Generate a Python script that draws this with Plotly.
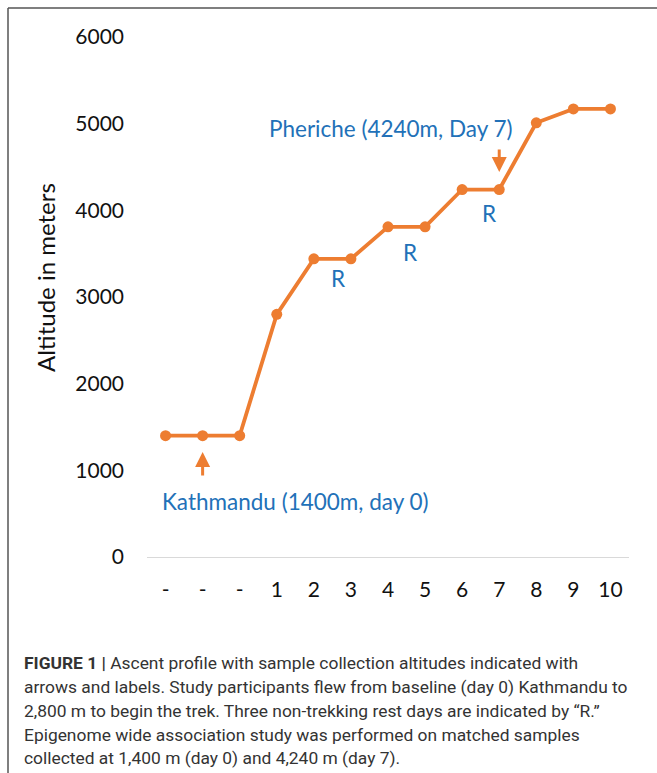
import plotly.graph_objects as go

# ---- data ----
x_index = list(range(13))
tick_labels = ["-", "-", "-", "1", "2", "3", "4", "5", "6", "7", "8", "9", "10"]
altitude_m = [1400, 1400, 1400, 2800, 3440, 3440, 3810, 3810, 4240, 4240, 5010, 5170, 5170]
y_ticks = [0, 1000, 2000, 3000, 4000, 5000, 6000]

rest_x = [4.66, 6.58, 8.73]
rest_y = [3219, 3508, 3969]

caption_lines = [
    "<b>FIGURE 1 |</b> Ascent profile with sample collection altitudes indicated with",
    "arrows and labels. Study participants flew from baseline (day 0) Kathmandu to",
    "2,800 m to begin the trek. Three non-trekking rest days are indicated by \u201cR.\u201d",
    "Epigenome wide association study was performed on matched samples",
    "collected at 1,400 m (day 0) and 4,240 m (day 7).",
]

ORANGE = "#ED7D31"
BLUE = "#2271B8"
FONT = "Lato, Open Sans, sans-serif"
LABEL_SIZE = 22.5

# plot area in pixels
L, R, T, B = 147, 629, 37, 557
W, H = 657, 773


def px(xp):
    return (xp - L) / (R - L)


def py(yp):
    return (B - yp) / (B - T)


fig = go.Figure()
fig.add_trace(go.Scatter(
    x=x_index, y=altitude_m, mode="lines+markers",
    line=dict(color=ORANGE, width=3.8),
    marker=dict(color=ORANGE, size=11),
    hoverinfo="skip", showlegend=False,
))

ann = []
ann.append(dict(x=6.09, y=4950, xref="x", yref="y", text="Pheriche (4240m, Day 7)",
                showarrow=False, font=dict(family=FONT, size=LABEL_SIZE, color=BLUE)))
ann.append(dict(x=3.5, y=635, xref="x", yref="y", text="Kathmandu (1400m, day 0)",
                showarrow=False, font=dict(family=FONT, size=LABEL_SIZE, color=BLUE)))
for rx, ry in zip(rest_x, rest_y):
    ann.append(dict(x=rx, y=ry, xref="x", yref="y", text="R", showarrow=False,
                    font=dict(family=FONT, size=LABEL_SIZE, color=BLUE)))
# arrows
ann.append(dict(x=9, y=4442, ax=9, ay=4719, xref="x", yref="y", axref="x", ayref="y",
                text="", showarrow=True, arrowhead=2, arrowsize=1, arrowwidth=3,
                arrowcolor=ORANGE))
ann.append(dict(x=1, y=1211, ax=1, ay=923, xref="x", yref="y", axref="x", ayref="y",
                text="", showarrow=True, arrowhead=2, arrowsize=1, arrowwidth=3,
                arrowcolor=ORANGE))
# y title
ann.append(dict(x=px(45), y=py(278), xref="paper", yref="paper", text="Altitude in meters",
                textangle=-90, showarrow=False, xanchor="center", yanchor="middle",
                font=dict(family=FONT, size=24, color="#111")))
# caption
cap_y = [663, 687, 711, 735, 758]
for line, cy in zip(caption_lines, cap_y):
    ann.append(dict(x=px(22), y=py(cy), xref="paper", yref="paper", text=line,
                    xanchor="left", yanchor="middle", showarrow=False,
                    font=dict(family="Roboto, sans-serif", size=17.4, color="#333")))

shapes = [
    dict(type="line", xref="paper", yref="paper", x0=px(8), x1=px(660), y0=py(8), y1=py(8),
         line=dict(color="#555", width=1.5)),
    dict(type="line", xref="paper", yref="paper", x0=px(8), x1=px(8), y0=py(8), y1=py(780),
         line=dict(color="#555", width=1.5)),
]

fig.update_layout(
    width=W, height=H,
    margin=dict(l=L, r=W - R, t=T, b=H - B, pad=0),
    paper_bgcolor="white", plot_bgcolor="white",
    font=dict(family=FONT, color="#111"),
    annotations=ann, shapes=shapes,
    xaxis=dict(range=[-0.5, 12.5], tickmode="array", tickvals=x_index, ticktext=tick_labels,
               showgrid=False, zeroline=False, showline=False, ticks="",
               ticklabelstandoff=18, tickfont=dict(family=FONT, size=21, color="#111")),
    yaxis=dict(range=[0, 6000], tickmode="array", tickvals=y_ticks,
               showgrid=False, zeroline=True, zerolinecolor="#d9d9d9", zerolinewidth=1,
               showline=False, ticks="", ticklabelstandoff=22,
               tickfont=dict(family=FONT, size=21, color="#111")),
)

fig.write_html("out.html", config={"displayModeBar": False, "staticPlot": True},
               post_script="document.body.style.margin='0';document.body.style.overflow='hidden';")
